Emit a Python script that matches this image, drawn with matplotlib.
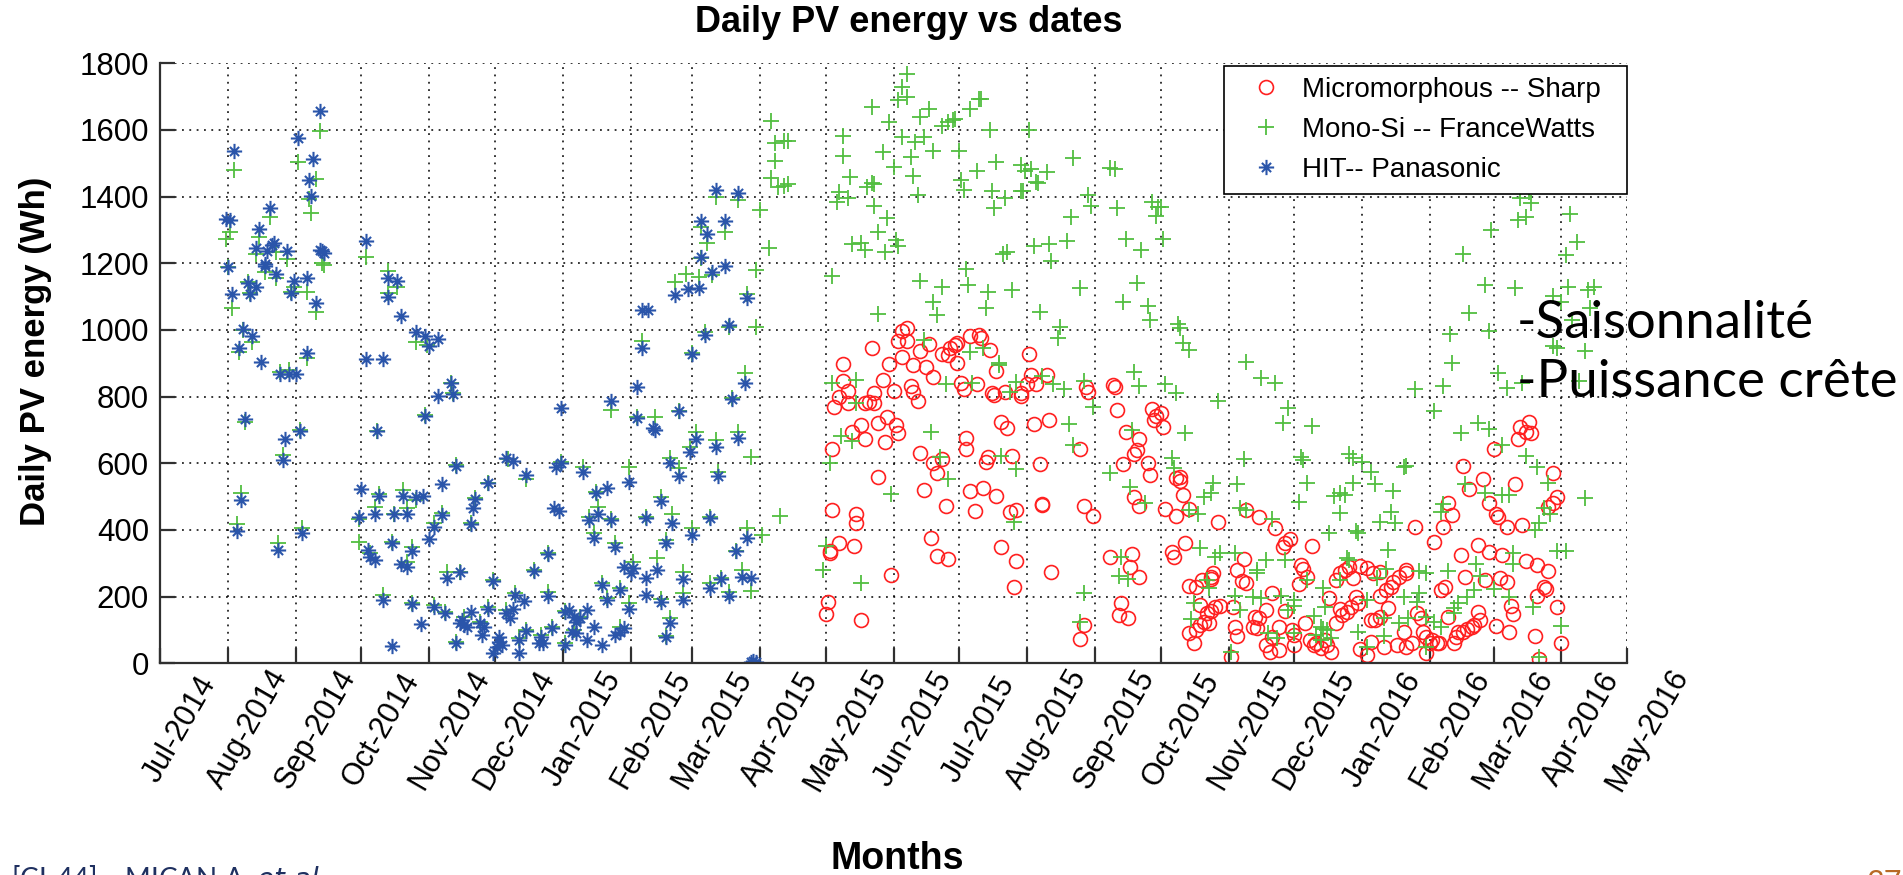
import matplotlib
matplotlib.use('Agg')
import matplotlib.pyplot as plt
import matplotlib.transforms as mtransforms
from matplotlib.path import Path
import numpy as np

# first day of the monitoring campaign, measurement days are counted from it
start = np.datetime64('2014-07-01')

# (day since start, daily PV energy in Wh)
sharp_pts = [
    (341, 1005), (339, 998), (337, 967), (341, 967), (325, 947), (351, 957), (347, 937), (339, 920),
    (361, 945), (363, 955), (364, 960), (357, 927), (360, 925), (370, 983), (374, 985), (375, 975),
    (379, 940), (397, 927),
    (312, 897), (333, 898), (344, 895), (350, 890), (364, 902), (353, 860), (312, 848), (314, 818),
    (310, 798), (308, 770), (314, 780), (330, 850), (335, 818), (326, 810), (324, 785), (322, 780),
    (326, 780), (343, 832), (344, 815), (346, 787), (366, 840), (367, 822), (373, 838), (380, 812),
    (381, 805), (386, 815), (393, 802), (393, 810), (396, 838), (398, 865), (400, 838), (405, 865),
    (382, 878), (424, 815), (423, 830), (435, 835), (436, 828), (437, 760), (332, 740), (336, 715),
    (337, 692), (328, 722), (320, 715), (316, 695), (322, 672), (331, 665), (307, 642), (384, 725),
    (387, 707), (399, 717), (406, 730), (368, 675), (368, 642), (347, 632), (353, 602), (357, 613),
    (355, 570), (377, 605), (378, 618), (389, 623), (402, 597), (420, 642), (441, 695), (447, 672),
    (446, 640), (445, 628), (440, 597), (328, 560), (349, 520), (370, 517), (376, 527), (382, 503),
    (359, 473), (372, 458), (388, 455), (391, 460), (403, 478), (403, 475), (422, 473), (426, 442),
    (445, 500), (447, 472), (307, 460), (318, 448), (318, 422), (310, 362), (317, 352), (306, 330),
    (306, 336), (352, 375), (355, 322), (360, 312), (384, 348), (391, 308), (407, 273), (390, 228),
    (334, 265), (434, 318), (444, 327), (443, 290), (447, 260), (305, 185), (304, 148), (320, 130),
    (422, 115), (420, 72), (439, 180), (438, 145), (442, 135),
    (453, 762), (455, 742), (457, 750), (454, 730), (458, 710), (451, 602), (452, 565), (466, 560),
    (466, 548), (464, 555), (467, 505), (459, 462), (464, 442), (470, 462), (483, 423), (462, 335),
    (463, 320), (468, 360), (470, 232), (473, 230), (476, 250), (481, 270), (480, 260), (480, 252),
    (475, 175), (478, 150), (480, 158), (482, 168), (484, 172), (477, 125), (479, 120), (475, 115),
    (473, 100), (470, 90), (472, 62), (495, 312), (492, 280), (494, 248), (496, 240), (490, 170),
    (496, 460), (502, 438), (509, 405), (508, 210), (505, 160), (500, 140), (502, 135), (499, 110),
    (501, 105), (491, 110), (492, 82), (505, 55), (507, 35), (511, 40), (511, 110), (508, 80),
    (489, 20), (513, 350), (514, 362), (516, 372), (526, 352), (521, 295), (522, 282), (524, 260),
    (520, 238), (514, 158), (517, 100), (518, 85), (518, 55), (523, 120), (525, 70), (528, 62),
    (530, 45), (532, 70), (533, 55), (535, 35), (527, 55), (534, 195), (537, 120), (539, 162),
    (540, 145), (542, 155), (544, 170), (546, 200), (547, 180), (537, 250), (539, 270), (541, 280),
    (545, 255), (543, 290), (548, 292), (551, 285), (554, 270), (557, 275), (548, 42), (551, 25),
    (553, 65), (553, 130), (555, 130), (557, 140), (557, 202), (559, 50), (561, 165), (560, 220),
    (562, 230), (563, 245), (566, 260), (569, 270), (569, 280), (565, 55), (568, 95), (569, 50),
    (572, 60), (574, 150), (576, 135), (577, 95), (578, 80), (581, 70), (583, 62), (584, 60),
    (578, 30), (580, 60), (573, 410), (582, 365), (586, 410), (588, 482), (590, 445), (585, 220),
    (587, 230), (588, 140), (591, 62), (592, 80), (593, 95), (595, 95), (597, 102), (599, 110),
    (600, 115), (602, 155), (603, 130), (610, 112), (616, 95), (628, 82), (630, 12), (640, 60),
    (594, 325), (596, 258), (595, 592), (598, 522), (602, 355), (604, 552), (607, 482), (607, 335),
    (605, 250), (610, 448), (611, 440), (615, 410), (613, 325), (612, 255), (615, 245), (617, 172),
    (618, 148), (609, 642), (619, 538), (620, 672), (621, 710), (625, 725), (624, 695), (626, 690),
    (622, 415), (624, 308), (629, 295), (634, 278), (636, 570), (638, 498), (636, 480), (634, 470),
    (632, 230), (633, 222), (629, 202), (638, 170),
]

francewatts_pts = [
    (73, 1597), (34, 1480), (63, 1503), (71, 1453), (68, 1393), (69, 1351), (50, 1338), (32, 1295),
    (30, 1273), (45, 1278), (44, 1227), (53, 1235), (58, 1213), (74, 1200), (75, 1195), (94, 1219),
    (31, 1188), (48, 1175), (53, 1155), (40, 1145), (41, 1110), (33, 1067), (61, 1128), (67, 1113),
    (60, 1113), (71, 1053), (104, 1177), (108, 1128), (104, 1112), (117, 965), (122, 955), (38, 1000),
    (42, 965), (36, 935), (67, 915), (220, 967),
    (55, 875), (59, 880), (39, 725), (64, 700), (56, 625), (37, 512), (35, 418), (54, 362), (65, 405),
    (99, 698), (91, 432), (98, 470), (100, 508), (111, 520), (107, 448), (113, 467), (117, 490),
    (91, 365), (96, 330), (106, 365), (115, 348), (113, 305), (102, 205), (115, 180), (121, 745),
    (133, 840), (134, 810), (125, 420), (129, 450), (135, 595), (131, 275), (137, 275), (125, 175),
    (130, 155), (135, 65), (142, 420), (144, 495), (150, 542), (152, 250), (159, 612), (167, 552),
    (183, 605), (177, 330), (171, 280), (162, 210), (177, 215), (139, 140), (146, 125), (150, 170),
    (158, 160), (164, 75), (167, 100), (174, 85), (179, 110), (185, 60), (185, 158), (192, 140),
    (189, 100), (193, 590), (199, 515), (200, 468), (196, 440), (206, 432), (198, 392), (208, 362),
    (206, 760), (218, 740), (214, 588), (222, 440), (202, 240), (210, 225), (204, 195), (216, 305),
    (214, 180), (210, 110),
    (254, 1400), (264, 1390), (247, 1310), (250, 1260), (258, 1293), (247, 1215), (252, 1165),
    (240, 1167), (246, 1160), (235, 1145), (268, 1107), (249, 995), (260, 1010), (243, 930),
    (272, 1180), (274, 1360), (278, 1247), (272, 1010), (279, 1628), (281, 1560), (285, 1567),
    (287, 1567), (281, 1507), (279, 1455), (282, 1430), (285, 1433), (287, 1437), (307, 1162),
    (310, 1415), (309, 1385), (314, 1397), (315, 1458), (312, 1522), (312, 1583), (316, 1258),
    (320, 1260), (322, 1240), (323, 1428), (325, 1440), (326, 1437), (325, 1668), (326, 1373),
    (332, 1335), (328, 1295), (331, 1233), (330, 1533), (333, 1623), (335, 1490), (336, 1270),
    (337, 1253), (337, 1690), (339, 1730), (341, 1768), (341, 1698), (339, 1578), (345, 1563),
    (343, 1520), (349, 1578), (344, 1463), (346, 1405), (347, 1640), (351, 1662), (353, 1538),
    (357, 1613), (360, 1625), (362, 1630), (363, 1632), (370, 1662), (374, 1693), (375, 1693),
    (365, 1538), (366, 1450), (367, 1420), (373, 1477), (379, 1600), (382, 1503), (380, 1417),
    (386, 1397), (381, 1367), (393, 1495), (397, 1600), (398, 1483), (395, 1478), (405, 1473),
    (400, 1445), (401, 1440), (393, 1417), (394, 1417), (417, 1517), (434, 1485), (436, 1483),
    (424, 1405), (425, 1373), (437, 1365), (416, 1338), (414, 1268), (406, 1258), (399, 1253),
    (407, 1207), (441, 1273), (385, 1228), (387, 1233), (448, 1240), (368, 1183), (369, 1135),
    (347, 1148), (357, 1130), (353, 1085), (355, 1045), (328, 1047), (378, 1115), (389, 1120),
    (377, 1065), (402, 1055), (420, 1125), (440, 1085), (446, 1140), (411, 1010), (410, 975),
    (349, 970), (370, 935), (376, 947), (383, 900),
    (267, 872), (261, 795), (237, 757), (226, 740), (245, 695), (254, 670), (242, 650), (264, 695),
    (270, 618), (233, 615), (237, 585), (255, 575), (229, 500), (234, 448), (251, 440), (283, 442),
    (243, 405), (231, 370), (268, 405), (275, 385), (263, 337), (227, 315), (239, 275), (256, 255),
    (251, 240), (266, 280), (270, 218), (260, 215), (239, 210), (229, 192), (233, 135), (231, 82),
    (307, 840), (318, 850), (318, 780), (311, 682), (316, 668), (306, 600), (352, 695), (356, 618),
    (360, 553), (334, 508), (359, 837), (371, 842), (383, 895), (388, 815), (391, 845), (403, 862),
    (408, 838), (413, 822), (422, 848), (426, 770), (415, 717), (417, 655), (384, 623), (391, 583),
    (390, 423), (434, 570), (443, 530), (444, 700), (445, 875), (447, 832), (304, 352), (303, 280),
    (320, 242), (422, 212), (420, 125), (439, 320), (438, 262), (442, 252),
    (453, 1385), (456, 1370), (457, 1368), (455, 1343), (458, 1273), (451, 1073), (452, 1030),
    (465, 1017), (466, 1007), (467, 960), (470, 940), (496, 903), (621, 1397), (625, 1413),
    (626, 1380), (624, 1340), (620, 1330), (608, 1300), (644, 1347), (647, 1263), (642, 1225),
    (595, 1227), (605, 1135), (619, 1125), (643, 1130), (652, 1120), (655, 1130), (636, 1103),
    (640, 1085), (653, 1065), (645, 1030), (598, 1050), (607, 997), (589, 987), (636, 953),
    (638, 947), (651, 937), (590, 900),
    (503, 855), (509, 840), (459, 837), (464, 810), (483, 788), (515, 765), (513, 720), (526, 712),
    (468, 690), (586, 832), (573, 822), (582, 757), (611, 872), (615, 825), (622, 840), (648, 848),
    (602, 722), (607, 703), (594, 690), (613, 655), (624, 622), (629, 588), (634, 542), (651, 495),
    (462, 615), (463, 585), (495, 612), (521, 620), (522, 610), (543, 627), (545, 615), (549, 605),
    (553, 575), (568, 590), (569, 592), (481, 542), (477, 498), (480, 510), (492, 538), (524, 542),
    (545, 540), (555, 538), (563, 517), (539, 510), (536, 502), (541, 505), (539, 452), (520, 485),
    (596, 538), (605, 512), (613, 505), (616, 505), (586, 478), (585, 455), (562, 455), (557, 423),
    (564, 422), (632, 465), (635, 448), (630, 420), (628, 400), (450, 480), (470, 460), (474, 448),
    (493, 465), (496, 460), (508, 433), (534, 390), (546, 398), (547, 390), (475, 345), (484, 332),
    (482, 320), (491, 330), (505, 310), (514, 310), (501, 280), (501, 270), (542, 315), (543, 310),
    (561, 340), (560, 282), (575, 278), (578, 270), (588, 278), (601, 298), (618, 332), (618, 298),
    (638, 338), (642, 338), (478, 250), (479, 225), (524, 250), (531, 225), (539, 250), (556, 255),
    (603, 262), (491, 202), (499, 198), (503, 195), (512, 202), (518, 190), (518, 172), (472, 182),
    (493, 160), (471, 132), (515, 160), (527, 142), (532, 170), (530, 110), (531, 102), (533, 100),
    (528, 85), (530, 70), (535, 75), (506, 90), (510, 75), (518, 90), (551, 190), (547, 95),
    (559, 135), (566, 120), (568, 198), (574, 185), (575, 210), (570, 135), (578, 140), (582, 125),
    (585, 110), (591, 150), (593, 182), (597, 198), (600, 220), (609, 222), (616, 198), (627, 170),
    (640, 112), (591, 165), (578, 50), (559, 82), (551, 50), (489, 35), (630, 20),
]

panasonic_pts = [
    (73, 1658), (34, 1538), (63, 1575), (70, 1512), (68, 1449), (69, 1401), (50, 1365), (30, 1334),
    (32, 1330), (45, 1304), (44, 1247), (52, 1262), (51, 1255), (49, 1237), (58, 1237), (74, 1237),
    (75, 1232), (73, 1240), (94, 1268), (31, 1188), (48, 1199), (48, 1191), (53, 1169), (40, 1140),
    (44, 1128), (41, 1107), (33, 1109), (61, 1148), (67, 1157), (60, 1111), (71, 1081), (104, 1157),
    (108, 1148), (104, 1099), (110, 1041), (117, 994), (121, 982), (123, 953), (127, 974), (38, 1002),
    (42, 982), (36, 945), (67, 932), (94, 913), (102, 913), (46, 905), (220, 1059), (223, 1059),
    (220, 947),
    (55, 868), (59, 868), (62, 868), (39, 733), (57, 673), (64, 698), (56, 610), (37, 490), (35, 396),
    (54, 340), (65, 390), (99, 698), (92, 522), (91, 440), (98, 448), (100, 502), (111, 502),
    (107, 448), (113, 448), (117, 500), (120, 502), (95, 340), (96, 320), (98, 310), (106, 360),
    (115, 337), (110, 298), (113, 290), (102, 190), (115, 177), (119, 118), (106, 52), (121, 743),
    (127, 802), (133, 842), (134, 807), (123, 372), (125, 410), (129, 445), (129, 538), (135, 592),
    (131, 255), (137, 275), (125, 168), (130, 150), (135, 60), (142, 418), (143, 465), (144, 492),
    (150, 540), (152, 248), (158, 617), (161, 608), (167, 565), (181, 590), (183, 600), (183, 765),
    (180, 465), (182, 458), (177, 328), (171, 278), (162, 205), (166, 188), (177, 202), (138, 130),
    (139, 115), (140, 110), (142, 155), (137, 120), (146, 120), (148, 110), (147, 85), (150, 162),
    (152, 30), (154, 50), (155, 80), (156, 55), (155, 65), (158, 150), (160, 135), (161, 162),
    (164, 70), (164, 30), (167, 98), (173, 60), (174, 78), (175, 60), (179, 107), (185, 55),
    (185, 155), (187, 160), (189, 140), (190, 125), (192, 135), (195, 160), (188, 95), (190, 90),
    (195, 70), (198, 110), (202, 55), (193, 575), (199, 510), (204, 525), (196, 430), (200, 448),
    (206, 430), (198, 375), (208, 350), (206, 788), (218, 828), (218, 735), (214, 543), (222, 437),
    (202, 235), (210, 220), (204, 190), (212, 288), (215, 270), (216, 285), (214, 163), (208, 85),
    (210, 95), (212, 105), (222, 255), (222, 205),
    (254, 1420), (264, 1412), (247, 1327), (250, 1289), (258, 1327), (247, 1220), (258, 1193),
    (252, 1174), (235, 1105), (241, 1122), (246, 1127), (268, 1095), (249, 985), (260, 1014),
    (243, 928),
    (267, 842), (261, 792), (237, 757), (226, 700), (225, 705), (245, 673), (254, 650), (242, 633),
    (264, 675), (233, 602), (237, 562), (255, 562), (229, 487), (234, 422), (251, 435), (243, 385),
    (231, 360), (268, 375), (263, 337), (227, 280), (239, 253), (256, 252), (251, 225), (266, 260),
    (270, 255), (260, 202), (239, 190), (229, 185), (233, 122), (231, 80), (270, 5), (272, 5),
    (271, 8),
]

month_ticks = ['2014-07-01', '2014-08-01', '2014-09-01', '2014-10-01', '2014-11-01', '2014-12-01',
               '2015-01-01', '2015-02-01', '2015-03-01', '2015-04-01', '2015-05-01', '2015-06-01',
               '2015-07-01', '2015-08-01', '2015-09-01', '2015-10-01', '2015-11-01', '2015-12-01',
               '2016-01-01', '2016-02-01', '2016-03-01', '2016-04-01', '2016-05-01']
month_labels = ['Jul-2014', 'Aug-2014', 'Sep-2014', 'Oct-2014', 'Nov-2014', 'Dec-2014',
                'Jan-2015', 'Feb-2015', 'Mar-2015', 'Apr-2015', 'May-2015', 'Jun-2015',
                'Jul-2015', 'Aug-2015', 'Sep-2015', 'Oct-2015', 'Nov-2015', 'Dec-2015',
                'Jan-2016', 'Feb-2016', 'Mar-2016', 'Apr-2016', 'May-2016']
energy_ticks = [0, 200, 400, 600, 800, 1000, 1200, 1400, 1600, 1800]


def to_dates(pts):
    days, wh = np.array(pts, dtype=float).T
    return start + days.astype(int) * np.timedelta64(1, 'D'), wh


# matlab style asterisk: long plus arms, shorter diagonals
star = Path([(-1, 0), (1, 0), (0, -1), (0, 1), (-.6, -.6), (.6, .6), (-.6, .6), (.6, -.6)],
            [Path.MOVETO, Path.LINETO] * 4)

plt.rcParams['font.family'] = ['Liberation Sans', 'DejaVu Sans']

fig = plt.figure(figsize=(19.03, 8.75), dpi=100)
ax = fig.add_axes([0.0841, 0.2419, 0.7709, 0.6858])

# trailing spaces leave the same right margin as the matlab legend box
x, y = to_dates(sharp_pts)
ax.plot(x, y, 'o', mfc='none', mec='#ff2020', ms=10, mew=1.2, label='Micromorphous -- Sharp  ')
x, y = to_dates(francewatts_pts)
ax.plot(x, y, '+', color='#52be40', ms=11, mew=1.3, label='Mono-Si -- FranceWatts  ')
x, y = to_dates(panasonic_pts)
ax.plot(x, y, ls='none', marker=star, mfc='none', mec='#2a55aa', ms=11, mew=1.5,
        label='HIT-- Panasonic')

tick_dates = np.array(month_ticks, dtype='datetime64[D]')
ax.set_xlim(tick_dates[0], tick_dates[-1])
ax.set_ylim(0, 1800)
ax.set_xticks(tick_dates)
ax.set_xticklabels([])
ax.set_yticks(energy_ticks)
ax.set_yticklabels([str(v) for v in energy_ticks], fontsize=22.5)

ax.grid(True, color='black', linestyle=(0, (1.2, 3.6)), linewidth=1.1)
ax.set_axisbelow(True)
ax.tick_params(direction='in', length=11, width=1.6, color='#303030', pad=8)
for side in ['top', 'right']:
    ax.spines[side].set_visible(False)
for side in ['left', 'bottom']:
    ax.spines[side].set_linewidth(1.6)
    ax.spines[side].set_color('#303030')

# rotated month labels under each tick
lab_tr = mtransforms.offset_copy(ax.get_xaxis_transform(), fig=fig, x=20, y=-66, units='dots')
for d, lab in zip(tick_dates, month_labels):
    ax.text(d, 0, lab, transform=lab_tr, rotation=60, rotation_mode='anchor',
            ha='center', va='center', fontsize=22)

fig.text(909 / 1903, 1 - 22 / 875, 'Daily PV energy vs dates', fontsize=26, fontweight='bold',
         ha='center', va='center')
ax.set_ylabel('Daily PV energy (Wh)', fontsize=25, fontweight='bold')
ax.yaxis.set_label_coords(-0.0736, 0.52)
fig.text(897 / 1903, 1 - 859 / 875, 'Months', fontsize=27, fontweight='bold',
         ha='center', va='center')

leg = ax.legend(loc='upper right', bbox_to_anchor=(1.0, 0.9955), borderaxespad=0,
                fontsize=20, frameon=True, fancybox=False, framealpha=1, edgecolor='black',
                handletextpad=0.2, labelspacing=0.5, borderpad=0.4, handlelength=2.2)
leg.get_frame().set_linewidth(1.2)

fig.text(1517 / 1903, 1 - 338 / 875, '-Saisonnalité', fontsize=38, fontfamily='Lato',
         color='black', va='baseline')
fig.text(1517 / 1903, 1 - 397 / 875, '-Puissance crête', fontsize=38, fontfamily='Lato',
         color='black', va='baseline')

fig.text(0.006, -0.015, '[CI-44] \u2013 MICAN A. $\\it{et\\ al.}$', fontsize=20, color='#1f3060',
         fontfamily='Lato', va='baseline')
fig.text(0.981, -0.019, '37', fontsize=22, color='#b86a25', fontfamily='Lato', va='baseline')

fig.savefig('out.png', dpi=100)
